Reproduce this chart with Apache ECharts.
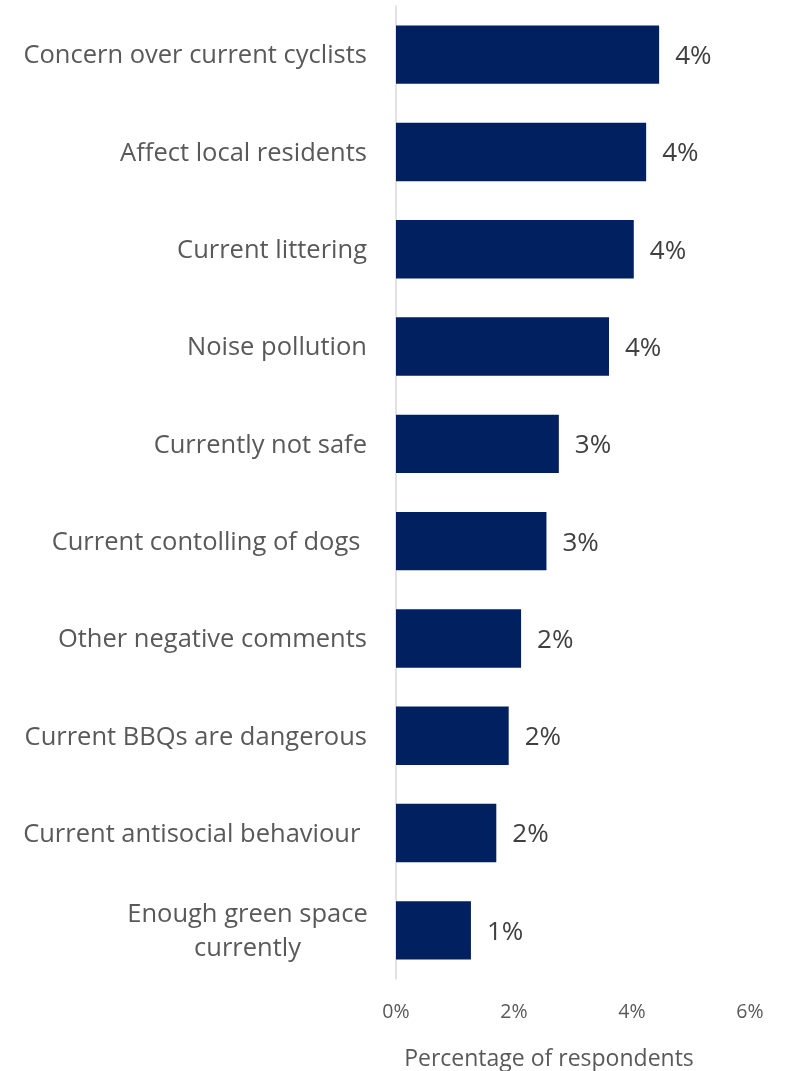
<!DOCTYPE html>
<html>
<head>
<meta charset="utf-8">
<script src="https://cdn.jsdelivr.net/npm/echarts@6/dist/echarts.min.js"></script>
<style>html,body{margin:0;padding:0;background:#fff;}#c{width:786px;height:1071px;}</style>
</head>
<body>
<div id="c"></div>
<script>
const categories = [
  "Concern over current cyclists",
  "Affect local residents",
  "Current littering",
  "Noise pollution",
  "Currently not safe",
  "Current contolling of dogs ",
  "Other negative comments",
  "Current BBQs are dangerous",
  "Current antisocial behaviour ",
  "Enough green space\ncurrently"
];
const values = [4.46, 4.24, 4.03, 3.61, 2.76, 2.55, 2.12, 1.91, 1.70, 1.27];
const tickLabels = ["0%", "2%", "4%", "6%"];
const axisTitle = "Percentage of respondents";

const chart = echarts.init(document.getElementById('c'), null, {renderer: 'canvas'});
const FONT = '"Open Sans", "Noto Sans", sans-serif';
chart.setOption({
  animation: false,
  grid: {left: 396, right: 36, top: 6, bottom: 92},
  title: {
    text: axisTitle, left: 544, top: 1043, textAlign: 'center',
    textStyle: {fontFamily: FONT, fontSize: 23, fontWeight: 'normal', color: '#595959'}
  },
  xAxis: {
    type: 'value', min: 0, max: 6, interval: 2,
    splitLine: {show: false},
    axisLine: {show: false},
    axisTick: {show: false},
    axisLabel: {
      margin: 23, fontFamily: FONT, fontSize: 19.5, color: '#595959',
      formatter: v => tickLabels[Math.round(v / 2)]
    }
  },
  yAxis: {
    type: 'category', data: categories, inverse: true,
    axisLine: {show: true, lineStyle: {color: '#d9d9d9', width: 1.5}},
    axisTick: {show: false},
    axisLabel: {
      margin: 29, fontFamily: FONT, fontSize: 25.5, color: '#595959', lineHeight: 34,
      padding: [3, 0, 0, 0],
      formatter: v => v.indexOf('\n') >= 0 ? v.split('\n').map(s => '{c|' + s + '}').join('\n') : v,
      rich: {c: {width: 239, align: 'center', fontFamily: FONT, fontSize: 25.5, color: '#595959', lineHeight: 34}}
    }
  },
  series: [{
    type: 'bar', data: values, barCategoryGap: '40%',
    itemStyle: {color: '#002060'},
    label: {
      show: true, position: 'right', distance: 16, offset: [0, 2],
      fontFamily: FONT, fontSize: 26, color: '#404040',
      formatter: p => Math.round(p.value) + '%'
    }
  }]
});
</script>
</body>
</html>
